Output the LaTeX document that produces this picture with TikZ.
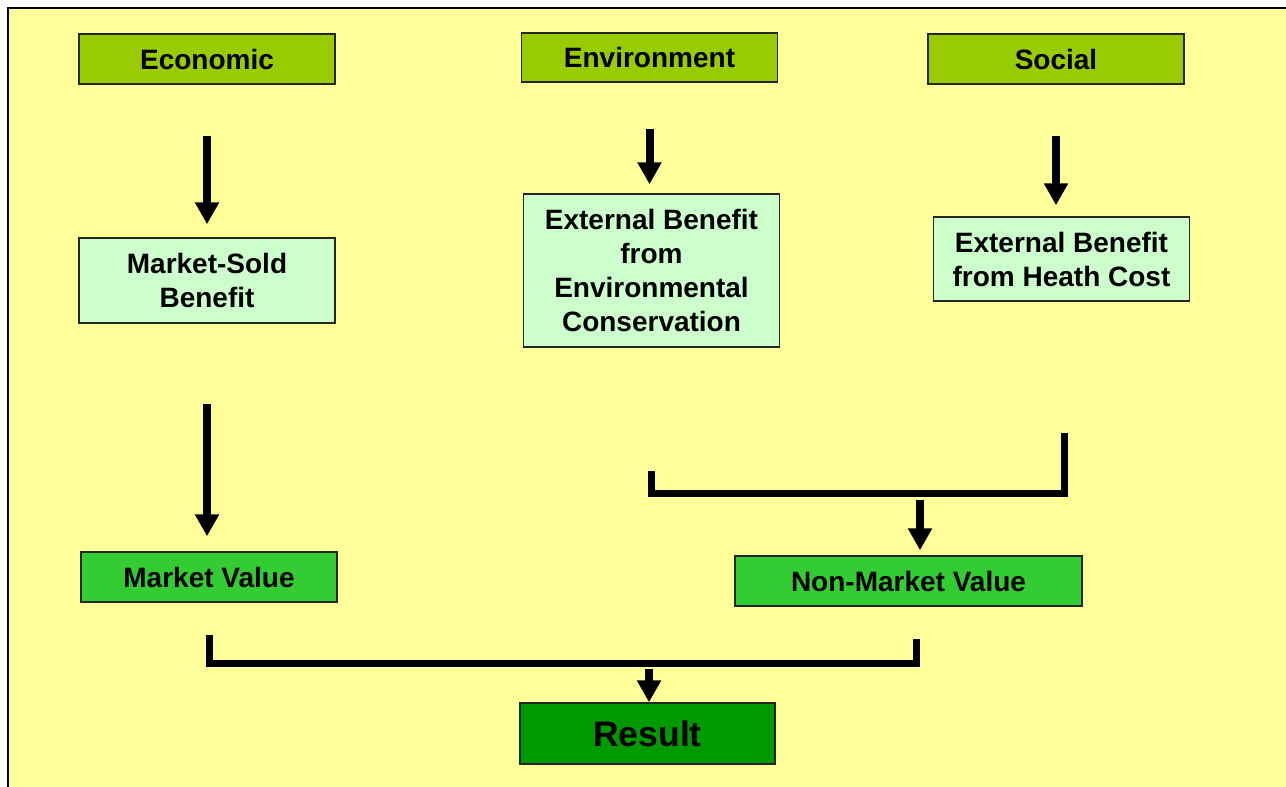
\documentclass[tikz,border=0pt]{standalone}
\usepackage{fontspec}
\setmainfont{Liberation Sans}
\usepackage{tikz}
\usetikzlibrary{positioning}
\usetikzlibrary{arrows.meta}
\definecolor{slide}{HTML}{FFFF99}
\definecolor{pillar}{HTML}{99CC00}
\definecolor{benefit}{HTML}{CCFFCC}
\definecolor{value}{HTML}{33CC33}
\definecolor{total}{HTML}{009900}

\begin{document}
\begin{tikzpicture}
[
x=1pt, y=-1pt,
box/.style={rectangle, draw=black!85, line width=1.5pt, inner sep=0pt, align=center, font=\fontsize{28}{34}\selectfont\bfseries},
pillar-box/.style={box, fill=pillar, minimum width=256pt, minimum height=50pt},
benefit-box/.style={box, fill=benefit, minimum width=256pt},
value-box/.style={box, fill=value, minimum height=50pt},
total-box/.style={box, fill=total, minimum width=255pt, minimum height=61pt, font=\fontsize{35.5}{40}\selectfont\bfseries},
flow/.style={-{Triangle[width=23pt,length=22pt]}, line width=8pt},
bracket/.style={line width=7pt},
]
\clip (0,0) rectangle (1286,787);
\fill [white] (0,0) rectangle (1286,787);
\draw [fill=slide, line width=1.5pt] (8,8) rectangle (1300,800);

\node (eco) [pillar-box] at (207,59)    {Economic};
\node (env) [pillar-box, minimum height=49pt] at (649.5,57.5) {Environment};
\node (soc) [pillar-box] at (1056,59)   {Social};

\node (msb) [benefit-box, minimum height=85pt]  at (207,280.5)  {Market-Sold\\Benefit};
\node (eec) [benefit-box, minimum height=153pt] at (651.5,270.5) {External Benefit\\from\\Environmental\\Conservation};
\node (ehc) [benefit-box, minimum height=84pt]  at (1061.5,259) {External Benefit\\from Heath Cost};

\node (mv)  [value-box, minimum width=256pt] at (209,577)   {Market Value};
\node (nmv) [value-box, minimum width=347pt] at (908.5,581) {Non-Market Value};

\node (res) [total-box] at (647.5,733.5) {Result};

\coordinate (jn) at (920,493);
\coordinate (jr) at (649,663);

\draw [flow, shorten <=51pt, shorten >=13pt] (eco) -- (msb);
\draw [flow, shorten <=46pt, shorten >=9pt]  (env.south) -- (env.south |- eec.north);
\draw [flow, shorten <=51pt, shorten >=11pt] (soc.south) -- (soc.south |- ehc.north);
\draw [flow, shorten <=80pt, shorten >=15pt] (msb) -- (msb.south |- mv.north);

\draw [bracket] ([yshift=-123pt]eec.south) -- (eec.south |- jn) -- ([xshift=2.5pt]ehc.south |- jn) -- ([xshift=2.5pt, yshift=-131pt]ehc.south);
\draw [flow, shorten <=7pt, shorten >=5pt] (jn) -- (jn |- nmv.north);

\draw [bracket] ([yshift=-32pt]mv.south) -- (mv.south |- jr) -- ([xshift=7.5pt]nmv.south |- jr) -- ([xshift=7.5pt, yshift=-32pt]nmv.south);
\draw [flow, shorten <=6pt] (jr) -- (jr |- res.north);
\end{tikzpicture}
\end{document}
